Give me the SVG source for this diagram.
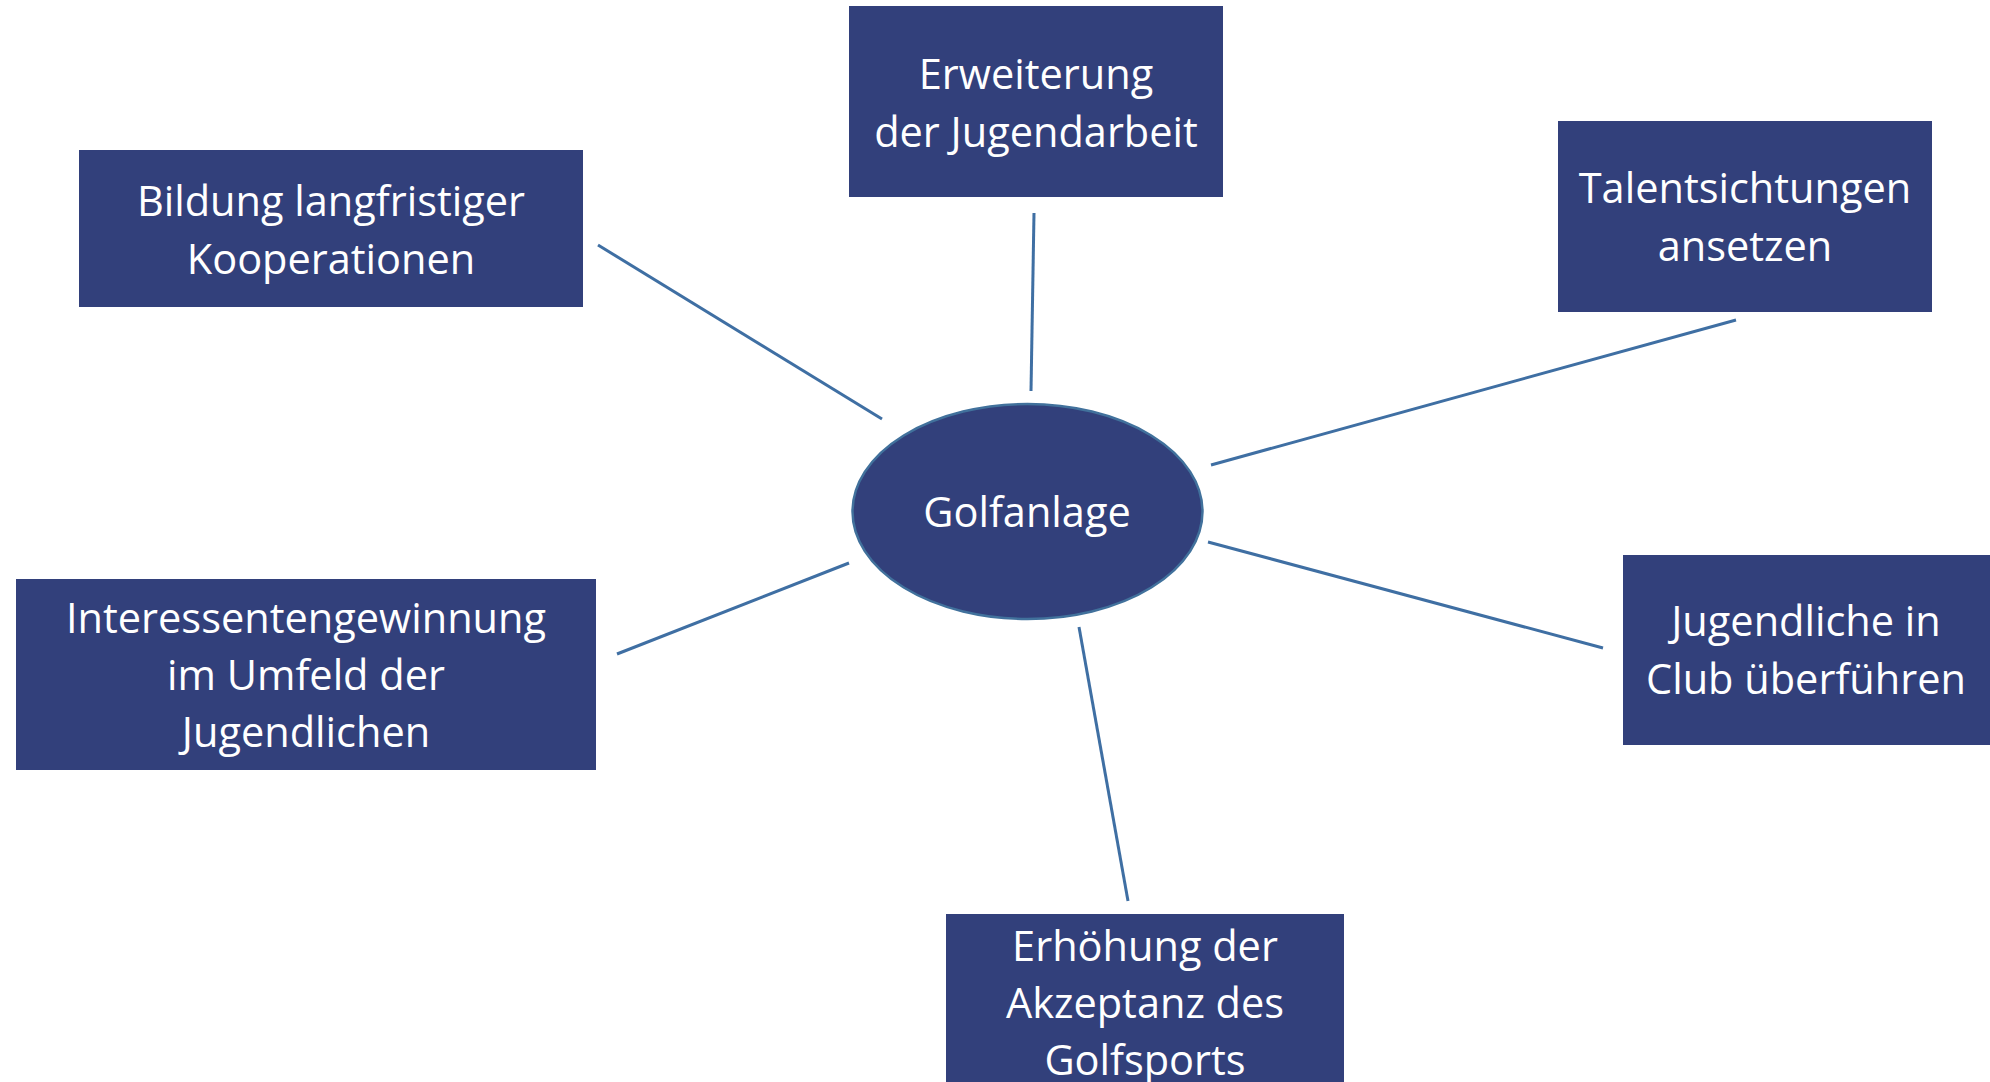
<svg xmlns="http://www.w3.org/2000/svg" width="1990" height="1082" viewBox="0 0 1990 1082">
<style>
.box{fill:#32407B;}
.ell{fill:#32407B;stroke:#41719C;stroke-width:2.5;}
.t{font-family:"Open Sans","Liberation Sans",sans-serif;font-size:41.5px;fill:#ffffff;text-anchor:middle;}
.c{stroke:#3F6FA3;stroke-width:3;fill:none;}
</style>
<rect width="1990" height="1082" fill="#ffffff"/>
<g id="connectors">
<line class="c" x1="1034" y1="213" x2="1031" y2="391"/>
<line class="c" x1="598" y1="245" x2="882" y2="419"/>
<line class="c" x1="1736" y1="320" x2="1211" y2="465"/>
<line class="c" x1="617" y1="654" x2="849" y2="563"/>
<line class="c" x1="1208" y1="542" x2="1603" y2="648"/>
<line class="c" x1="1079" y1="627" x2="1128" y2="901"/>
</g>
<g id="center">
<ellipse class="ell" cx="1027.5" cy="511.5" rx="175" ry="107.5"/>
<text class="t" x="1027" y="527">Golfanlage</text>
</g>
<g id="n-top">
<rect class="box" x="849" y="6" width="374" height="191"/>
<text class="t" x="1036" y="88.5">Erweiterung</text>
<text class="t" x="1036" y="146.5">der Jugendarbeit</text>
</g>
<g id="n-topleft">
<rect class="box" x="79" y="150" width="504" height="157"/>
<text class="t" x="331" y="215.5">Bildung langfristiger</text>
<text class="t" x="331" y="273.5">Kooperationen</text>
</g>
<g id="n-topright">
<rect class="box" x="1558" y="121" width="374" height="191"/>
<text class="t" x="1745" y="202.5">Talentsichtungen</text>
<text class="t" x="1745" y="260.5">ansetzen</text>
</g>
<g id="n-left">
<rect class="box" x="16" y="579" width="580" height="191"/>
<text class="t" x="306" y="632.5">Interessentengewinnung</text>
<text class="t" x="306" y="689.5">im Umfeld der</text>
<text class="t" x="306" y="746.5">Jugendlichen</text>
</g>
<g id="n-right">
<rect class="box" x="1623" y="555" width="380" height="190"/>
<text class="t" x="1806" y="636">Jugendliche in</text>
<text class="t" x="1806" y="694">Club überführen</text>
</g>
<g id="n-bottom">
<rect class="box" x="946" y="914" width="398" height="190"/>
<text class="t" x="1145" y="961">Erhöhung der</text>
<text class="t" x="1145" y="1018">Akzeptanz des</text>
<text class="t" x="1145" y="1075">Golfsports</text>
</g>
</svg>
